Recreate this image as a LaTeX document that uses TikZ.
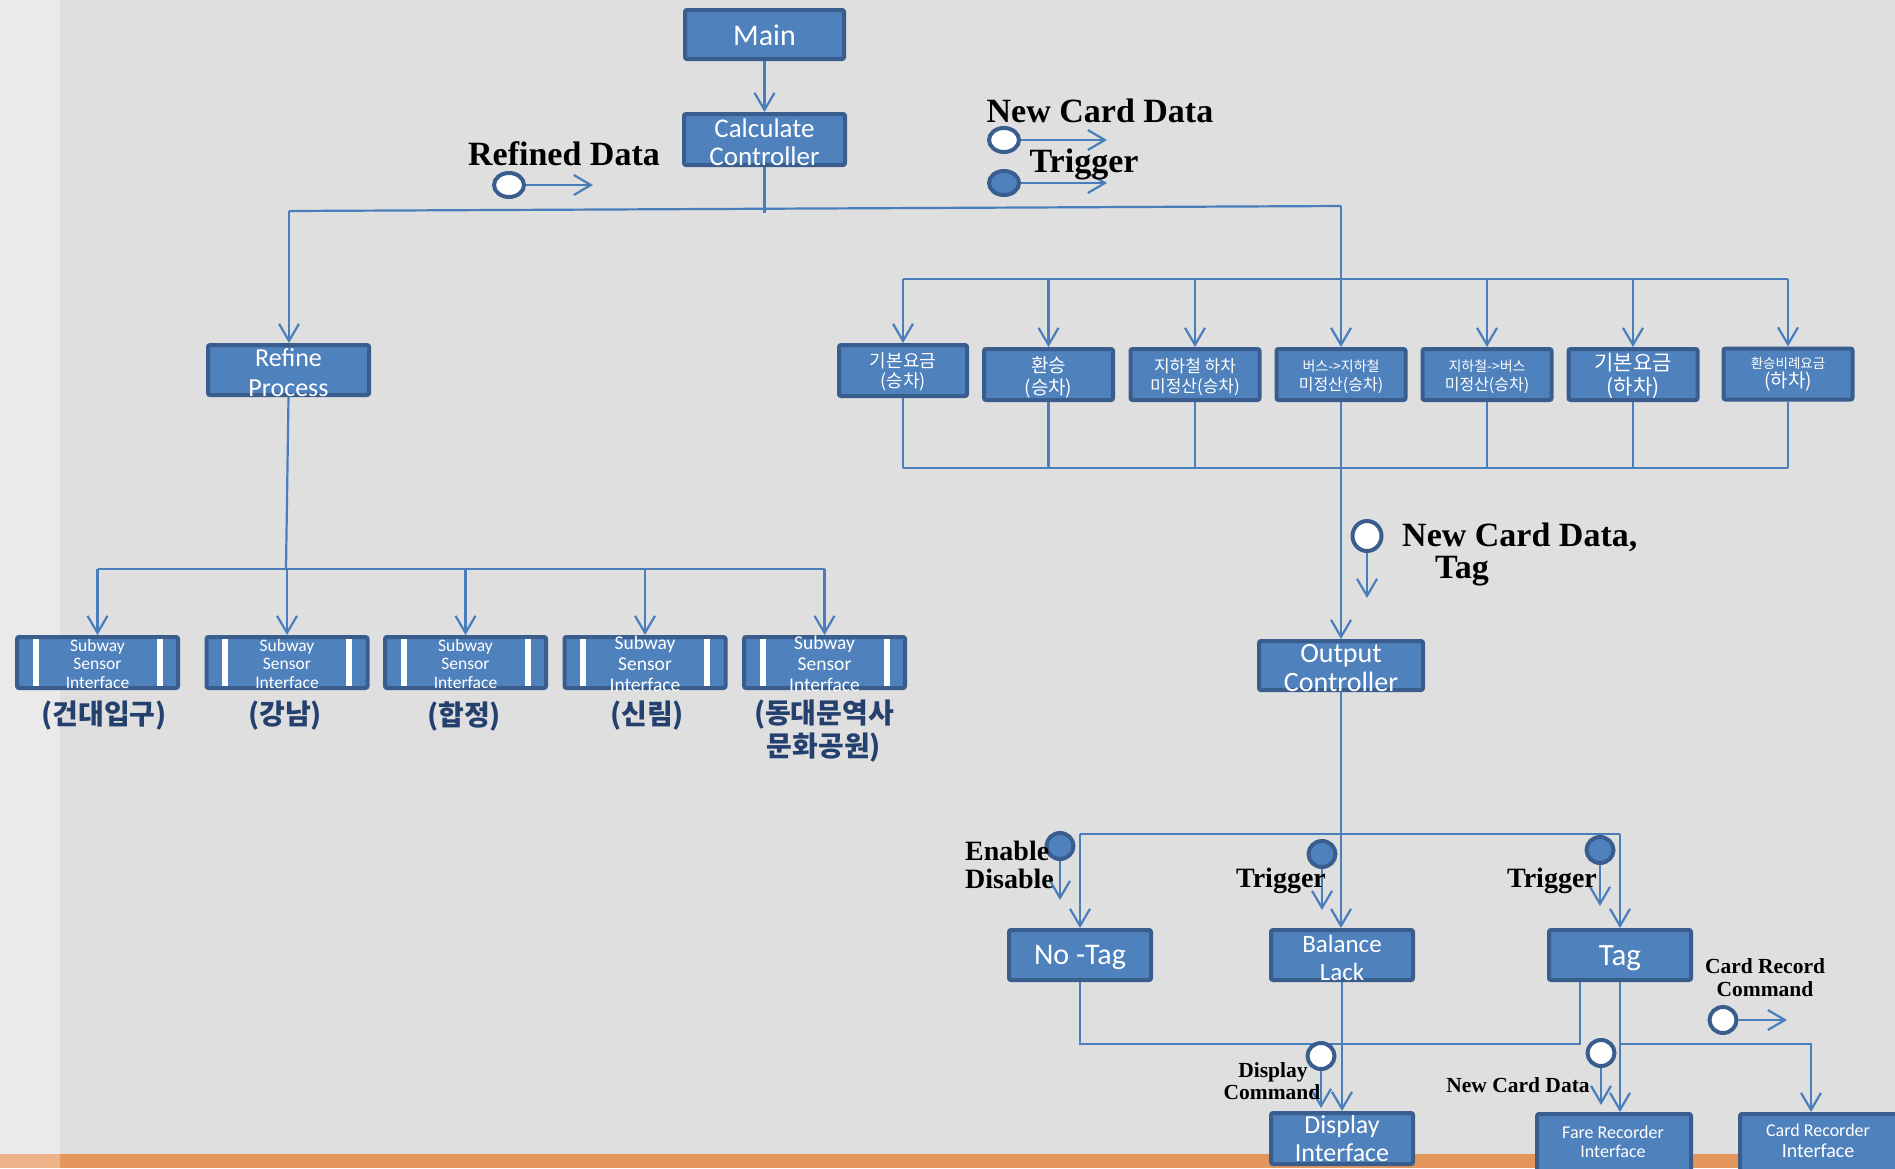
\documentclass[tikz,border=0pt]{standalone}
\usepackage{fontspec}
\setmainfont{Liberation Serif}
\newfontfamily\boxfont{Carlito}
\newfontfamily\kr{Noto Sans CJK KR}
\usetikzlibrary{arrows.meta,shapes.geometric}
\definecolor{bgmain}{HTML}{DFDFDF}
\definecolor{bgleft}{HTML}{EAEAEA}
\definecolor{orbar}{HTML}{E3955A}
\definecolor{orbarl}{HTML}{EDB48A}
\definecolor{boxfill}{HTML}{4F81BD}
\definecolor{boxedge}{HTML}{395E8E}
\definecolor{lnc}{HTML}{4A7EBB}
\definecolor{navy}{HTML}{24406E}
\begin{document}
\begin{tikzpicture}[x=1pt,y=-1pt,
  box/.style={draw=boxedge, fill=boxfill, line width=4pt, rounded corners=2pt, inner sep=0pt},
  btxt/.style={text=white, align=center, inner sep=0pt},
  ln/.style={draw=lnc, line width=2.2pt},
  arr/.style={ln, -{Straight Barb[length=17pt,width=20pt]}},
  tokw/.style={ellipse, draw=boxedge, line width=4pt, fill=white, inner sep=0pt, minimum width=27pt, minimum height=26pt},
  tokb/.style={tokw, fill=boxfill},
  tokwide/.style={minimum width=30pt, minimum height=24pt},
  lbl/.style={inner sep=0pt, text=black},
  big/.style={font=\bfseries\fontsize{34}{36}\selectfont},
  mid/.style={font=\bfseries\fontsize{28}{30}\selectfont},
  sml/.style={font=\bfseries\fontsize{21.5}{23}\selectfont},
  kl/.style={inner sep=0pt, text=navy, align=center, font=\kr\bfseries\fontsize{28}{30}\selectfont}
]
\useasboundingbox (0,0) rectangle (1895,1168);
% background
\fill[bgmain] (0,0) rectangle (1895,1168);
\fill[bgleft] (0,0) rectangle (60,1168);
\fill[orbar] (60,1154) rectangle (1895,1168);
\fill[orbarl] (0,1154) rectangle (60,1168);

% boxes
\node[box, minimum width=159pt, minimum height=49pt] (main) at (764.5,34.5) {};
\node[box, minimum width=161pt, minimum height=51pt] (calc) at (764.5,139.5) {};
\node[box, minimum width=161pt, minimum height=50pt] (rp) at (288.5,370) {};
\node[box, minimum width=128pt, minimum height=51pt] (f1) at (903,370.5) {};
\node[box, minimum width=129pt, minimum height=51pt] (f2) at (1048.5,374.5) {};
\node[box, minimum width=129pt, minimum height=51pt] (f3) at (1195,374.5) {};
\node[box, minimum width=129pt, minimum height=51pt] (f4) at (1341,374.5) {};
\node[box, minimum width=129pt, minimum height=51pt] (f5) at (1487,374.5) {};
\node[box, minimum width=129pt, minimum height=51pt] (f6) at (1633,374.5) {};
\node[box, minimum width=129pt, minimum height=51pt] (f7) at (1788,374) {};
\node[box, minimum width=161pt, minimum height=51pt] (s1) at (97.5,662.5) {};
\node[box, minimum width=161pt, minimum height=51pt] (s2) at (287,662.5) {};
\node[box, minimum width=161pt, minimum height=51pt] (s3) at (465.5,662.5) {};
\node[box, minimum width=161pt, minimum height=51pt] (s4) at (645,662.5) {};
\node[box, minimum width=161pt, minimum height=51pt] (s5) at (824.5,662.5) {};
\foreach \c in {97.5,287,465.5,645,824.5} {
  \fill[white] (\c-65,639) rectangle (\c-59,686);
  \fill[white] (\c+59,639) rectangle (\c+65,686);
}
\node[box, minimum width=164pt, minimum height=49pt] (oc) at (1341,665.5) {};
\node[box, minimum width=142pt, minimum height=50pt] (nt) at (1080,955) {};
\node[box, minimum width=142pt, minimum height=50pt] (bl) at (1342,955) {};
\node[box, minimum width=142pt, minimum height=50pt] (tag) at (1620,955) {};
\node[box, minimum width=142pt, minimum height=51pt] (di) at (1342,1138.5) {};
\node[box, minimum width=154pt, minimum height=59pt] (fr) at (1614,1143.5) {};
\node[box, minimum width=163pt, minimum height=59pt] (cr) at (1821.5,1143.5) {};

% box texts
\node[btxt, font=\boxfont\fontsize{30}{32}\selectfont] at (764.5,35) {Main};
\node[btxt, font=\boxfont\fontsize{27}{28}\selectfont] at (764.5,142) {Calculate\\Controller};
\node[btxt, font=\boxfont\fontsize{26}{30}\selectfont] at (288.5,373) {Refine\\Process};
\node[btxt, font=\kr\fontsize{18}{20}\selectfont] at (903,372) {기본요금\\(승차)};
\node[btxt, font=\kr\fontsize{19}{22}\selectfont] at (1048.5,377) {환승\\(승차)};
\node[btxt, font=\kr\fontsize{17}{20}\selectfont] at (1195,377) {지하철 하차\\미정산(승차)};
\node[btxt, font=\kr\fontsize{16}{19}\selectfont] at (1341,377) {{\fontsize{14}{19}\selectfont 버스->지하철}\\미정산(승차)};
\node[btxt, font=\kr\fontsize{16}{19}\selectfont] at (1487,377) {{\fontsize{14}{19}\selectfont 지하철->버스}\\미정산(승차)};
\node[btxt, font=\kr\fontsize{21}{24}\selectfont] at (1633,376) {기본요금\\(하차)};
\node[btxt, font=\kr\fontsize{19}{19}\selectfont] at (1788,374) {{\fontsize{13.5}{19}\selectfont 환승비례요금}\\(하차)};
\node[btxt, font=\boxfont\fontsize{17.5}{18.5}\selectfont] at (97.5,663.5) {Subway\\Sensor\\Interface};
\node[btxt, font=\boxfont\fontsize{17.5}{18.5}\selectfont] at (287,663.5) {Subway\\Sensor\\Interface};
\node[btxt, font=\boxfont\fontsize{17.5}{18.5}\selectfont] at (465.5,663.5) {Subway\\Sensor\\Interface};
\node[btxt, font=\boxfont\fontsize{19.5}{21}\selectfont] at (645,664) {Subway\\Sensor\\Interface};
\node[btxt, font=\boxfont\fontsize{19.5}{21}\selectfont] at (824.5,664) {Subway\\Sensor\\Interface};
\node[btxt, font=\boxfont\fontsize{28}{29}\selectfont] at (1341,668) {Output\\Controller};
\node[btxt, font=\boxfont\fontsize{30}{32}\selectfont] at (1080,957) {No -Tag};
\node[btxt, font=\boxfont\fontsize{25}{28}\selectfont] at (1342,958) {Balance\\Lack};
\node[btxt, font=\boxfont\fontsize{31}{32}\selectfont] at (1620,958) {Tag};
\node[btxt, font=\boxfont\fontsize{26}{28}\selectfont] at (1342,1139) {Display\\Interface};
\node[btxt, font=\boxfont\fontsize{18}{19}\selectfont] at (1613,1142) {Fare Recorder\\Interface};
\node[btxt, font=\boxfont\fontsize{18}{21}\selectfont] at (1818,1141) {Card Recorder\\{\fontsize{20}{21}\selectfont Interface}};

% Korean station labels
\node[kl] (k1) at (104,716) {(건대입구)};
\node[kl] (k2) at (285,716) {(강남)};
\node[kl] (k3) at (464,716) {(합정)};
\node[kl] (k4) at (647,716) {(신림)};
\node[kl, font=\kr\bfseries\fontsize{28}{33}\selectfont] (k5) at (824,731) {(동대문역사\\문화공원)};

% connectors: top
\draw[arr] (main.south) -- (calc.north);
\coordinate (cJ) at (764.5,213);
\draw[ln] (calc.south) -- (cJ);
\coordinate (tL) at (289,211);
\coordinate (tR) at (1341,206);
\draw[ln] (tL) -- (tR);
\draw[arr] (tL) -- (tL |- rp.north);
\draw[arr] (tR) -- (f4.north);
\coordinate (ftL) at (903,279);
\coordinate (ftR) at (1788,279);
\draw[ln] (ftL) -- (ftR);
\foreach \n in {f1,f2,f3,f5,f6,f7} \draw[arr] (\n.north |- ftL) -- (\n.north);
\coordinate (fbL) at (903,468);
\coordinate (fbR) at (1788,468);
\foreach \n in {f1,f2,f3,f5,f6,f7} \draw[ln] (\n.south) -- (\n.south |- fbL);
\draw[ln] (fbL) -- (fbR);
\draw[arr] (f4.south) -- (oc.north);

% refine -> sensors
\coordinate (sJ) at (286,569);
\draw[ln] (rp.south) -- (sJ);
\coordinate (sbL) at (97.5,569);
\coordinate (sbR) at (824.5,569);
\draw[ln] (sbL) -- (sbR);
\foreach \n in {s1,s2,s3,s4,s5} \draw[arr] (\n.north |- sbL) -- (\n.north);

% output controller
\coordinate (obL) at (1080,834);
\coordinate (obR) at (1620,834);
\draw[ln] (obL) -- (obR);
\draw[arr] (oc.south) -- (oc.south |- bl.north);
\draw[arr] (obL) -- (nt.north);
\draw[arr] (obR) -- (tag.north);

% bottom
\coordinate (uR) at (1580,1044);
\draw[ln] (nt.south) |- (uR) -- (uR |- tag.south);
\draw[arr] (bl.south) -- (di.north);
\draw[arr] (tag.south) -- (tag.south |- fr.north);
\coordinate (cJ2) at (1620,1044);
\coordinate (crJ) at (1811,1044);
\draw[arr] (cJ2) -- (crJ) -- (crJ |- cr.north);

% tokens
\node[tokw, tokwide] (tRef) at (509,185) {};
\coordinate (tRefE) at (593,185);
\draw[arr] (tRef.east) -- (tRefE);
\node[tokw, tokwide] (tNew) at (1004,140) {};
\coordinate (tNewE) at (1107,140);
\draw[arr] (tNew.east) -- (tNewE);
\node[tokb, tokwide] (tTrg) at (1004,183) {};
\coordinate (tTrgE) at (1107,183);
\draw[arr] (tTrg.east) -- (tTrgE);
\node[tokw, minimum width=29pt, minimum height=30pt] (tOut) at (1367,536) {};
\coordinate (tOutE) at (1367,598);
\draw[arr] (tOut.south) -- (tOutE);
\node[tokb] (tEn) at (1060,846) {};
\coordinate (tEnE) at (1060,900);
\draw[arr] (tEn.south) -- (tEnE);
\node[tokb] (tT1) at (1322,854) {};
\coordinate (tT1E) at (1322,910);
\draw[arr] (tT1.south) -- (tT1E);
\node[tokb] (tT2) at (1600,850) {};
\coordinate (tT2E) at (1600,906);
\draw[arr] (tT2.south) -- (tT2E);
\node[tokw] (tDC) at (1321,1056) {};
\coordinate (tDCE) at (1321,1108);
\draw[arr] (tDC.south) -- (tDCE);
\node[tokw] (tNC) at (1601,1053) {};
\coordinate (tNCE) at (1601,1105);
\draw[arr] (tNC.south) -- (tNCE);
\node[tokw] (tCR) at (1723,1020) {};
\coordinate (tCRE) at (1787,1020);
\draw[arr] (tCR.east) -- (tCRE);

% labels
\node[lbl, big, anchor=base] (lRef) at (564,165) {Refined Data};
\node[lbl, big, anchor=base] (lNew) at (1100,122) {New Card Data};
\node[lbl, big, anchor=base] (lTrg) at (1084,172) {Trigger};
\node[lbl, big, anchor=base west] (lNew2) at (1402,546) {New Card Data,};
\node[lbl, big, anchor=base west] (lTag) at (1435,578) {Tag};
\node[lbl, mid, anchor=base west] (lEn) at (965,860) {Enable};
\node[lbl, mid, anchor=base west] (lDis) at (965,888) {Disable};
\node[lbl, mid, anchor=base] (lT1) at (1281,887) {Trigger};
\node[lbl, mid, anchor=base] (lT2) at (1552,887) {Trigger};
\node[lbl, sml, anchor=base] (lDC1) at (1273,1077) {Display};
\node[lbl, sml, anchor=base] (lDC2) at (1272,1099) {Command};
\node[lbl, sml, anchor=base] (lNC3) at (1518,1092) {New Card Data};
\node[lbl, sml, anchor=base] (lCR1) at (1765,973) {Card Record};
\node[lbl, sml, anchor=base] (lCR2) at (1765,996) {Command};
\end{tikzpicture}
\end{document}
